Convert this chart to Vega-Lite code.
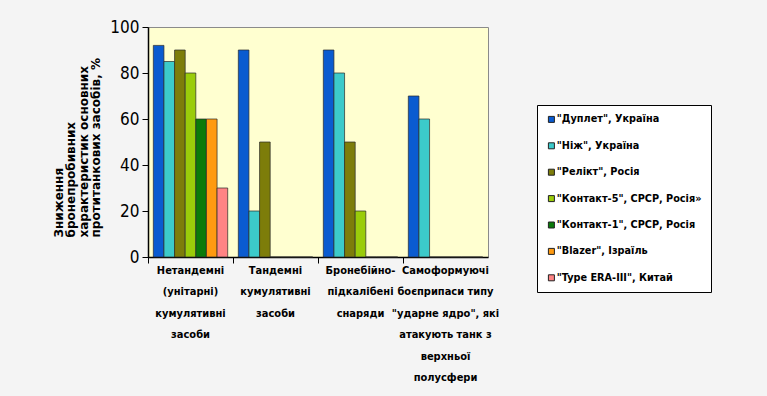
{
  "$schema": "https://vega.github.io/schema/vega-lite/v6.json",
  "width": 340,
  "height": 230,
  "autosize": {"type": "none"},
  "padding": {"left": 148, "top": 27, "right": 279, "bottom": 139},
  "background": "#F4F4F4",
  "config": {
    "view": {"fill": "#FFFFD0", "stroke": "#8a8a8a", "strokeWidth": 1},
    "font": "'DejaVu Sans Condensed', 'Liberation Sans', sans-serif"
  },
  "data": {
    "values": [
      {"category": "Нетандемні|(унітарні)|кумулятивні|засоби", "series": "\"Дуплет\", Україна", "value": 92},
      {"category": "Нетандемні|(унітарні)|кумулятивні|засоби", "series": "\"Ніж\", Україна", "value": 85},
      {"category": "Нетандемні|(унітарні)|кумулятивні|засоби", "series": "\"Релікт\", Росія", "value": 90},
      {"category": "Нетандемні|(унітарні)|кумулятивні|засоби", "series": "\"Контакт-5\", СРСР, Росія»", "value": 80},
      {"category": "Нетандемні|(унітарні)|кумулятивні|засоби", "series": "\"Контакт-1\", СРСР, Росія", "value": 60},
      {"category": "Нетандемні|(унітарні)|кумулятивні|засоби", "series": "\"Blazer\", Ізраїль", "value": 60},
      {"category": "Нетандемні|(унітарні)|кумулятивні|засоби", "series": "\"Type ERA-III\", Китай", "value": 30},
      {"category": "Тандемні|кумулятивні|засоби", "series": "\"Дуплет\", Україна", "value": 90},
      {"category": "Тандемні|кумулятивні|засоби", "series": "\"Ніж\", Україна", "value": 20},
      {"category": "Тандемні|кумулятивні|засоби", "series": "\"Релікт\", Росія", "value": 50},
      {"category": "Тандемні|кумулятивні|засоби", "series": "\"Контакт-5\", СРСР, Росія»", "value": 0},
      {"category": "Тандемні|кумулятивні|засоби", "series": "\"Контакт-1\", СРСР, Росія", "value": 0},
      {"category": "Тандемні|кумулятивні|засоби", "series": "\"Blazer\", Ізраїль", "value": 0},
      {"category": "Тандемні|кумулятивні|засоби", "series": "\"Type ERA-III\", Китай", "value": 0},
      {"category": "Бронебійно-|підкалібені|снаряди", "series": "\"Дуплет\", Україна", "value": 90},
      {"category": "Бронебійно-|підкалібені|снаряди", "series": "\"Ніж\", Україна", "value": 80},
      {"category": "Бронебійно-|підкалібені|снаряди", "series": "\"Релікт\", Росія", "value": 50},
      {"category": "Бронебійно-|підкалібені|снаряди", "series": "\"Контакт-5\", СРСР, Росія»", "value": 20},
      {"category": "Бронебійно-|підкалібені|снаряди", "series": "\"Контакт-1\", СРСР, Росія", "value": 0},
      {"category": "Бронебійно-|підкалібені|снаряди", "series": "\"Blazer\", Ізраїль", "value": 0},
      {"category": "Бронебійно-|підкалібені|снаряди", "series": "\"Type ERA-III\", Китай", "value": 0},
      {"category": "Самоформуючі|боєприпаси типу|\"ударне ядро\", які|атакують танк з|верхньої|полусфери", "series": "\"Дуплет\", Україна", "value": 70},
      {"category": "Самоформуючі|боєприпаси типу|\"ударне ядро\", які|атакують танк з|верхньої|полусфери", "series": "\"Ніж\", Україна", "value": 60},
      {"category": "Самоформуючі|боєприпаси типу|\"ударне ядро\", які|атакують танк з|верхньої|полусфери", "series": "\"Релікт\", Росія", "value": 0},
      {"category": "Самоформуючі|боєприпаси типу|\"ударне ядро\", які|атакують танк з|верхньої|полусфери", "series": "\"Контакт-5\", СРСР, Росія»", "value": 0},
      {"category": "Самоформуючі|боєприпаси типу|\"ударне ядро\", які|атакують танк з|верхньої|полусфери", "series": "\"Контакт-1\", СРСР, Росія", "value": 0},
      {"category": "Самоформуючі|боєприпаси типу|\"ударне ядро\", які|атакують танк з|верхньої|полусфери", "series": "\"Blazer\", Ізраїль", "value": 0},
      {"category": "Самоформуючі|боєприпаси типу|\"ударне ядро\", які|атакують танк з|верхньої|полусфери", "series": "\"Type ERA-III\", Китай", "value": 0}
    ]
  },
  "mark": {"type": "bar", "stroke": "#2a2a2a", "strokeWidth": 0.7},
  "encoding": {
    "x": {
      "field": "category",
      "type": "nominal",
      "sort": null,
      "scale": {"paddingInner": 0, "paddingOuter": 0},
      "axis": {
        "title": null,
        "labelAngle": 0,
        "labelExpr": "split(datum.label, '|')",
        "labelFont": "'DejaVu Sans Condensed', 'Liberation Sans', sans-serif",
        "labelFontWeight": "bold",
        "labelFontSize": 11,
        "labelLineHeight": 21.5,
        "labelColor": "#000000",
        "labelPadding": 1,
        "labelBaseline": "top",
        "labelLimit": 200,
        "bandPosition": 0,
        "tickSize": 6,
        "tickColor": "#000000",
        "domainColor": "#000000",
        "domainWidth": 1.5
      }
    },
    "xOffset": {
      "field": "series",
      "type": "nominal",
      "sort": null,
      "scale": {"paddingInner": 0, "paddingOuter": 0.5}
    },
    "y": {
      "field": "value",
      "type": "quantitative",
      "scale": {"domain": [0, 100], "nice": false},
      "axis": {
        "values": [0, 20, 40, 60, 80, 100],
        "grid": false,
        "labelFont": "'DejaVu Sans Condensed', 'Liberation Sans', sans-serif",
        "labelFontSize": 17,
        "labelColor": "#000000",
        "labelPadding": 3,
        "tickSize": 6,
        "tickColor": "#000000",
        "domainColor": "#000000",
        "domainWidth": 1.5,
        "title": ["Зниження", "бронепробивних", "характеристик основних", "протитанкових засобів, %"],
        "titleFont": "DejaVu Sans",
        "titleFontSize": 12,
        "titleFontWeight": "bold",
        "titleColor": "#000000",
        "titleAngle": 270,
        "titleAlign": "left",
        "titleBaseline": "top",
        "titleLineHeight": 12.5,
        "titleX": -95,
        "titleY": 210
      }
    },
    "color": {
      "field": "series",
      "type": "nominal",
      "sort": null,
      "scale": {
        "domain": ["\"Дуплет\", Україна", "\"Ніж\", Україна", "\"Релікт\", Росія", "\"Контакт-5\", СРСР, Росія»", "\"Контакт-1\", СРСР, Росія", "\"Blazer\", Ізраїль", "\"Type ERA-III\", Китай"],
        "range": ["#0A5BD0", "#3CCACA", "#7D7D0A", "#9ACC0A", "#0A7A0A", "#FF9A10", "#FF8484"]
      },
      "legend": {
        "title": null,
        "orient": "none",
        "legendX": 389,
        "legendY": 78,
        "fillColor": "#FFFFFF",
        "strokeColor": "#000000",
        "padding": 9,
        "symbolType": "square",
        "symbolSize": 36,
        "symbolStrokeColor": "#222222",
        "symbolStrokeWidth": 1,
        "symbolOffset": 0,
        "labelFont": "'DejaVu Sans Condensed', 'Liberation Sans', sans-serif",
        "labelFontWeight": "bold",
        "labelFontSize": 10.8,
        "labelColor": "#000000",
        "labelOffset": 0,
        "labelLimit": 200,
        "rowPadding": 14.4
      }
    }
  }
}
